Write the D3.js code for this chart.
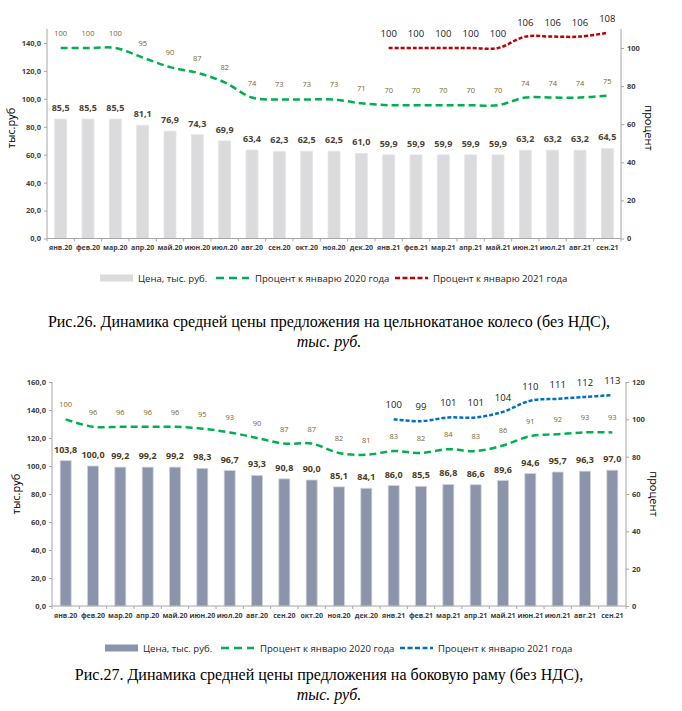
<!DOCTYPE html>
<html>
<head>
<meta charset="utf-8">
<script src="https://cdn.jsdelivr.net/npm/d3@7"></script>
<style>
  body { margin: 0; background: #fff; }
  svg { display: block; }
  .cap { font-family: 'Liberation Serif', 'Times New Roman', serif; }
</style>
</head>
<body>
<svg id="page" width="682" height="711"></svg>
<script>
// categories
var months = ["янв.20","фев.20","мар.20","апр.20","май.20","июн.20","июл.20","авг.20","сен.20","окт.20","ноя.20","дек.20",
              "янв.21","фев.21","мар.21","апр.21","май.21","июн.21","июл.21","авг.21","сен.21"];
var months2021 = months.slice(12);

// Рис.26 - цельнокатаное колесо
var wheelPrice = [85.5,85.5,85.5,81.1,76.9,74.3,69.9,63.4,62.3,62.5,62.5,61.0,59.9,59.9,59.9,59.9,59.9,63.2,63.2,63.2,64.5];
var wheelPct2020 = [100,100,100,95,90,87,82,74,73,73,73,71,70,70,70,70,70,74,74,74,75];
var wheelPct2021 = [100,100,100,100,100,106,106,106,108];

// Рис.27 - боковая рама
var framePrice = [103.8,100.0,99.2,99.2,99.2,98.3,96.7,93.3,90.8,90.0,85.1,84.1,86.0,85.5,86.8,86.6,89.6,94.6,95.7,96.3,97.0];
var framePct2020 = [100,96,96,96,96,95,93,90,87,87,82,81,83,82,84,83,86,91,92,93,93];
var framePct2021 = [100,99,101,101,104,110,111,112,113];

// axis ticks
var wheelLeftTicks = [0,20,40,60,80,100,120,140];
var wheelRightTicks = [0,20,40,60,80,100];
var frameLeftTicks = [0,20,40,60,80,100,120,140,160];
var frameRightTicks = [0,20,40,60,80,100,120];

var legendLabels = ["Цена, тыс. руб.", "Процент к январю 2020 года", "Процент к январю 2021 года"];

var svg = d3.select("#page");
var fmt1 = function(v) { return d3.format(".1f")(v).replace(".", ","); };
var axisCol = "#a6a6a6";
var labelFont = "'Open Sans', sans-serif";

function drawChart(c) {
    var g = svg.append("g");

    var x = d3.scaleBand().domain(months).range([c.left, c.right]);
    var yL = d3.scaleLinear().domain([0, c.leftMax]).range([c.base, c.top]);
    var yR = d3.scaleLinear().domain([0, c.rightMax]).range([c.base, c.top]);

    // bars
    g.selectAll("rect.bar")
        .data(c.price)
        .enter().append("rect")
        .attr("class", "bar")
        .attr("x", function(d, i) { return x(months[i]) + x.bandwidth() / 2 - c.barW / 2; })
        .attr("y", function(d) { return yL(d); })
        .attr("width", c.barW)
        .attr("height", function(d) { return c.base - yL(d); })
        .attr("fill", c.barColor)
        .attr("stroke", c.barStroke)
        .attr("stroke-width", 0.8);

    g.selectAll("text.barlab")
        .data(c.price)
        .enter().append("text")
        .attr("x", function(d, i) { return x(months[i]) + x.bandwidth() / 2; })
        .attr("y", function(d) { return yL(d) - 8; })
        .attr("text-anchor", "middle")
        .attr("font-family", labelFont)
        .attr("font-size", 9)
        .attr("font-weight", "bold")
        .attr("fill", c.barLabelColor)
        .text(fmt1);

    // left axis
    var axL = g.append("g")
        .attr("transform", "translate(" + c.left + ",0)")
        .call(d3.axisLeft(yL).tickValues(c.leftTicks).tickSize(3).tickFormat(fmt1));
    axL.select(".domain").attr("d", "M0," + c.base + "V" + c.top);

    // right axis
    var axR = g.append("g")
        .attr("transform", "translate(" + c.right + ",0)")
        .call(d3.axisRight(yR).tickValues(c.rightTicks).tickSize(3));
    axR.select(".domain").attr("d", "M0," + c.base + "V" + c.top);

    // bottom axis
    var axB = g.append("g")
        .attr("transform", "translate(0," + c.base + ")")
        .call(d3.axisBottom(x).tickSize(0).tickPadding(7));
    axB.select(".domain").attr("d", "M" + c.left + ",0H" + c.right);
    g.selectAll("line.xtick")
        .data(months.concat(["end"]))
        .enter().append("line")
        .attr("class", "xtick")
        .attr("x1", function(d, i) { return c.left + i * x.step(); })
        .attr("x2", function(d, i) { return c.left + i * x.step(); })
        .attr("y1", c.base)
        .attr("y2", c.base + 3)
        .attr("stroke", axisCol);

    [axL, axR, axB].forEach(function(a) {
        a.selectAll(".domain, .tick line").attr("stroke", axisCol);
        a.selectAll("text")
            .attr("font-family", labelFont)
            .attr("font-size", 7)
            .attr("font-weight", "bold")
            .attr("fill", "#404040");
    });
    axL.selectAll("text").attr("font-size", 7.5);
    axR.selectAll("text").attr("font-size", 7.5);

    // axis titles
    g.append("text")
        .attr("transform", "translate(" + c.leftTitleX + "," + c.titleY + ") rotate(-90)")
        .attr("text-anchor", "middle")
        .attr("font-family", labelFont)
        .attr("font-size", 11)
        .attr("fill", "#000")
        .text("тыс.руб");
    g.append("text")
        .attr("transform", "translate(" + c.rightTitleX + "," + c.titleY + ") rotate(90)")
        .attr("text-anchor", "middle")
        .attr("font-family", labelFont)
        .attr("font-size", 11)
        .attr("fill", "#000")
        .text("процент");

    // lines
    var line = d3.line()
        .x(function(d) { return x(d.m) + x.bandwidth() / 2; })
        .y(function(d) { return yR(d.v); })
        .curve(d3.curveCatmullRom.alpha(0.5));

    var s2020 = c.pct2020.map(function(v, i) { return { m: months[i], v: v }; });
    var s2021 = c.pct2021.map(function(v, i) { return { m: months2021[i], v: v }; });

    g.append("path")
        .datum(s2020)
        .attr("d", line)
        .attr("fill", "none")
        .attr("stroke", "#00b050")
        .attr("stroke-width", 2.5)
        .attr("stroke-dasharray", "7,4");

    g.append("path")
        .datum(s2021)
        .attr("d", line)
        .attr("fill", "none")
        .attr("stroke", c.col2021)
        .attr("stroke-width", 2.5)
        .attr("stroke-dasharray", "4,2");

    g.selectAll("text.l20")
        .data(s2020)
        .enter().append("text")
        .attr("x", function(d) { return x(d.m) + x.bandwidth() / 2; })
        .attr("y", function(d) { return yR(d.v) - 12; })
        .attr("text-anchor", "middle")
        .attr("font-family", labelFont)
        .attr("font-size", 7.5)
        .attr("fill", "#7f5f2a")
        .text(function(d) { return d.v; });

    g.selectAll("text.l21")
        .data(s2021)
        .enter().append("text")
        .attr("x", function(d) { return x(d.m) + x.bandwidth() / 2; })
        .attr("y", function(d) { return yR(d.v) - 11; })
        .attr("text-anchor", "middle")
        .attr("font-family", labelFont)
        .attr("font-size", 9.5)
        .attr("fill", "#1a1a1a")
        .text(function(d) { return d.v; });

    // legend
    var lg = g.append("g").attr("font-family", labelFont).attr("font-size", 9.6).attr("fill", "#262626");
    lg.append("rect")
        .attr("x", c.legX[0]).attr("y", c.legY - 3.5)
        .attr("width", 33).attr("height", 7)
        .attr("fill", c.barColor);
    lg.append("text").attr("x", c.legX[0] + 38).attr("y", c.legY + 3.5).text(legendLabels[0]);
    lg.append("line")
        .attr("x1", c.legX[1]).attr("x2", c.legX[1] + 33)
        .attr("y1", c.legY).attr("y2", c.legY)
        .attr("stroke", "#00b050").attr("stroke-width", 2.5).attr("stroke-dasharray", "8,5");
    lg.append("text").attr("x", c.legX[1] + 39).attr("y", c.legY + 3.5).text(legendLabels[1]);
    lg.append("line")
        .attr("x1", c.legX[2]).attr("x2", c.legX[2] + 33)
        .attr("y1", c.legY).attr("y2", c.legY)
        .attr("stroke", c.col2021).attr("stroke-width", 2.5).attr("stroke-dasharray", "5,2.5");
    lg.append("text").attr("x", c.legX[2] + 38).attr("y", c.legY + 3.5).text(legendLabels[2]);

    // caption
    var cap = g.append("g").attr("class", "cap").attr("fill", "#000")
        .attr("text-anchor", "middle");
    cap.append("text").attr("x", 329).attr("y", c.capY).attr("font-size", 16).text(c.caption);
    cap.append("text").attr("x", 329).attr("y", c.capY + 20).attr("font-size", 16)
        .attr("font-style", "italic").text("тыс. руб.");
}

drawChart({
    left: 47, right: 621, top: 29, base: 238.5,
    leftMax: 150, rightMax: 110,
    leftTicks: wheelLeftTicks, rightTicks: wheelRightTicks,
    price: wheelPrice, pct2020: wheelPct2020, pct2021: wheelPct2021,
    barW: 12, barColor: "#dbdadc", barStroke: "#e6e6e6", barLabelColor: "#4d4436",
    col2021: "#c00000",
    leftTitleX: 15, rightTitleX: 645, titleY: 128,
    legX: [100, 216, 395], legY: 278,
    capY: 327,
    caption: "Рис.26. Динамика средней цены предложения на цельнокатаное колесо (без НДС),"
});

drawChart({
    left: 52, right: 626, top: 382, base: 606,
    leftMax: 160, rightMax: 120,
    leftTicks: frameLeftTicks, rightTicks: frameRightTicks,
    price: framePrice, pct2020: framePct2020, pct2021: framePct2021,
    barW: 11, barColor: "#8b94aa", barStroke: "#d0d3da", barLabelColor: "#4d3b22",
    col2021: "#0070c0",
    leftTitleX: 20, rightTitleX: 650, titleY: 494,
    legX: [105, 221, 400], legY: 648,
    capY: 680,
    caption: "Рис.27. Динамика средней цены предложения на боковую раму (без НДС),"
});
</script>
</body>
</html>
